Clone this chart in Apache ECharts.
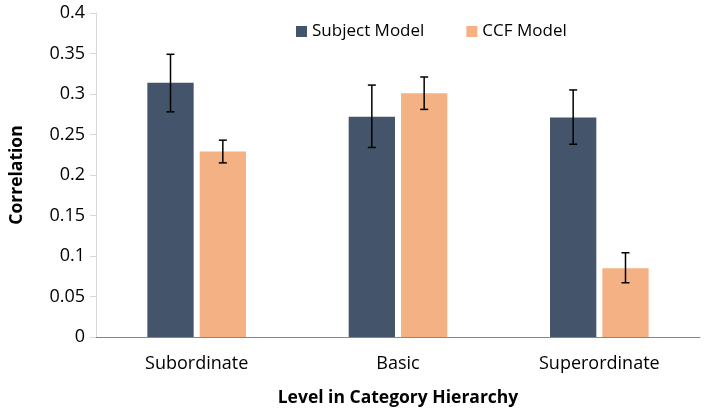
<!DOCTYPE html>
<html><head><meta charset="utf-8">
<script src="https://cdn.jsdelivr.net/npm/echarts@6/dist/echarts.min.js"></script>
<style>html,body{margin:0;padding:0;background:#fff}#c{width:704px;height:412px}</style>
</head><body><div id="c"></div>
<script>
const categories = ['Subordinate', 'Basic', 'Superordinate'];
const subjectValues = [0.314, 0.272, 0.271];
const subjectErrLow = [0.278, 0.234, 0.238];
const subjectErrHigh = [0.349, 0.311, 0.305];
const ccfValues = [0.229, 0.301, 0.085];
const ccfErrLow = [0.215, 0.281, 0.067];
const ccfErrHigh = [0.243, 0.321, 0.104];
const yTicks = ['0','0.05','0.1','0.15','0.2','0.25','0.3','0.35','0.4'];

const BAR_W = 0.23, BAR_GAP = 0.13;
const font = 'Open Sans';

function errSeries(name, low, high, sign) {
  return {
    type: 'custom', name: name + ' err', silent: true, z: 10,
    encode: { x: 0, y: [1, 2] },
    data: categories.map((c, i) => [i, low[i], high[i]]),
    renderItem: function (params, api) {
      const band = api.size([1, 0])[0];
      const off = sign * band * BAR_W * (1 + BAR_GAP) / 2;
      const lo = api.coord([api.value(0), api.value(1)]);
      const hi = api.coord([api.value(0), api.value(2)]);
      const x = lo[0] + off;
      const cap = 4;
      const st = { stroke: '#000', lineWidth: 1.5 };
      return { type: 'group', children: [
        { type: 'line', shape: { x1: x, y1: lo[1], x2: x, y2: hi[1] }, style: st },
        { type: 'line', shape: { x1: x - cap, y1: lo[1], x2: x + cap, y2: lo[1] }, style: st },
        { type: 'line', shape: { x1: x - cap, y1: hi[1], x2: x + cap, y2: hi[1] }, style: st }
      ]};
    }
  };
}

const chart = echarts.init(document.getElementById('c'));
chart.setOption({
  animation: false,
  textStyle: { fontFamily: font },
  legend: {
    top: 18, left: 291, itemGap: 42, itemWidth: 11, itemHeight: 11,
    icon: 'rect',
    data: ['Subject Model', 'CCF Model'],
    textStyle: { fontSize: 17, color: '#000', fontFamily: font }
  },
  grid: { left: 95, right: 4, top: 13, bottom: 74, containLabel: false },
  xAxis: {
    type: 'category', data: categories,
    axisLine: { lineStyle: { color: '#868686', width: 1 } },
    axisTick: { show: false },
    axisLabel: { fontSize: 18, color: '#000', margin: 18, fontFamily: font },
    name: 'Level in Category Hierarchy', nameLocation: 'middle', nameGap: 52,
    nameTextStyle: { fontSize: 17.5, fontWeight: 'bold', color: '#000', fontFamily: font }
  },
  yAxis: {
    type: 'value', min: 0, max: 0.4, interval: 0.05,
    axisLine: { show: true, lineStyle: { color: '#d9d9d9' } },
    axisTick: { show: true, length: 6, lineStyle: { color: '#d9d9d9' } },
    splitLine: { show: false },
    axisLabel: { fontSize: 18, color: '#000', margin: 11, fontFamily: font,
      formatter: (v) => yTicks[Math.round(v / 0.05)] },
    name: 'Correlation', nameLocation: 'middle', nameGap: 70, nameRotate: 90,
    nameTextStyle: { fontSize: 17.5, fontWeight: 'bold', color: '#000', fontFamily: font }
  },
  series: [
    { type: 'bar', name: 'Subject Model', data: subjectValues, barWidth: '23%', barGap: '13%',
      itemStyle: { color: '#44546A' } },
    { type: 'bar', name: 'CCF Model', data: ccfValues, barWidth: '23%', barGap: '13%',
      itemStyle: { color: '#F4B183' } },
    errSeries('Subject Model', subjectErrLow, subjectErrHigh, -1),
    errSeries('CCF Model', ccfErrLow, ccfErrHigh, 1)
  ]
});
</script></body></html>
